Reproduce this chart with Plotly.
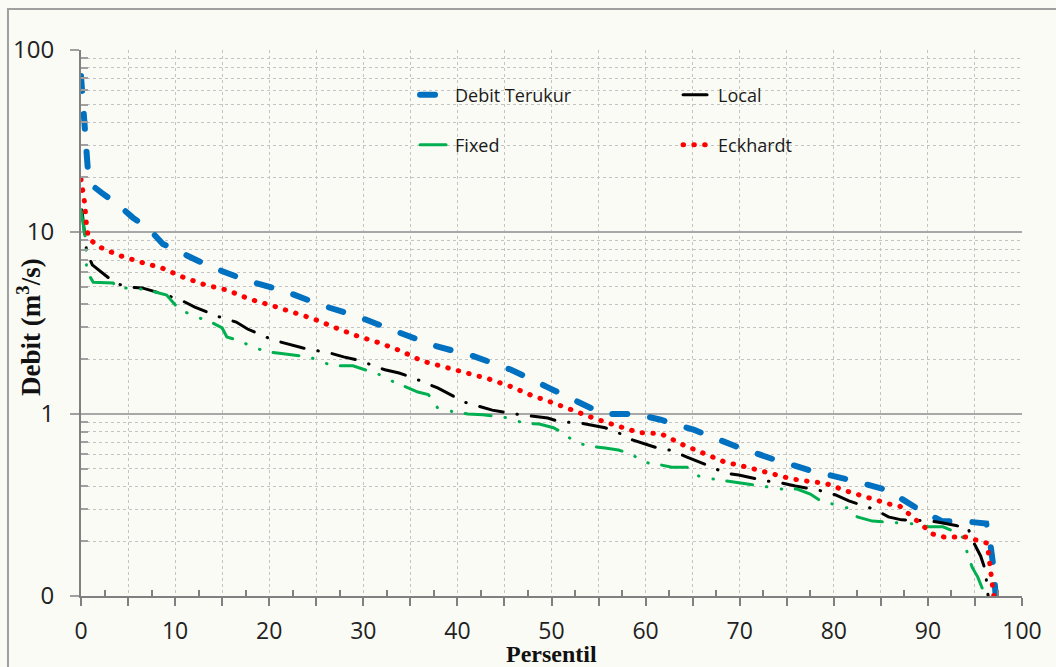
import plotly.graph_objects as go

# ---------------- data ----------------
terukur_x = [0, 0.15, 0.3, 0.5, 0.7, 0.9, 1.5, 2.2, 3.9, 5.5, 7.3, 8.7, 10.7, 13.6, 17.5, 21.6, 25.5,
             29.5, 33.6, 37.6, 41.7, 45.7, 49.5, 53.3, 55.5, 59, 61.6, 65.1, 69.5, 73.5, 77.7,
             81.7, 85.7, 89.3, 91.5, 94, 96.2, 96.6, 97, 97.2]
terukur_y = [72, 55, 40, 30, 23, 20, 17.5, 16.4, 14.2, 12.0, 10.3, 8.6, 7.7, 6.5, 5.44, 4.74, 3.97,
             3.42, 2.83, 2.37, 2.08, 1.75, 1.41, 1.13, 1.0, 1.0, 0.93, 0.82, 0.667, 0.566, 0.486,
             0.434, 0.382, 0.293, 0.258, 0.257, 0.25, 0.2, 0.14, 0.1]

local_x = [0.1, 0.6, 1.2, 3.6, 4.9, 6.5, 9.1, 10.8, 12.1, 15.0, 16.5, 17.7, 20.4, 22.0, 23.5, 26.5,
           27.9, 29.4, 32.3, 33.8, 35.3, 37.9, 39.4, 40.8, 43.7, 46.7, 49.6, 51.1, 52.7, 55.7,
           57.1, 58.6, 61.3, 62.8, 64.4, 67.1, 68.4, 69.9, 72.9, 74.4, 75.9, 78.7, 80.2, 81.6,
           84.5, 85.8, 87.2, 90.2, 91.6, 93.1, 94.2, 94.9, 95.6, 96.1, 96.4]
local_y = [13.2, 7.8, 6.6, 5.25, 4.99, 4.93, 4.5, 4.18, 3.87, 3.37, 3.2, 2.93, 2.55, 2.43, 2.31, 2.16,
           2.06, 1.98, 1.75, 1.68, 1.58, 1.39, 1.26, 1.16, 1.05, 0.99, 0.95, 0.90, 0.90, 0.84,
           0.79, 0.72, 0.65, 0.63, 0.58, 0.51, 0.474, 0.462, 0.428, 0.418, 0.402, 0.378, 0.359, 0.333,
           0.297, 0.272, 0.262, 0.259, 0.252, 0.243, 0.24, 0.195, 0.166, 0.139, 0.1]

fixed_x = [0, 0.5, 0.6, 1.3, 3.4, 3.9, 5.7, 7.1, 9.1, 10.5, 11.1, 12.3, 13.8, 15.0, 15.5, 16.9, 18.4,
           20.0, 21.5, 24.3, 25.7, 27.3, 28.9, 31.8, 33.0, 34.5, 35.8, 36.9, 37.9, 39.5, 41.1, 42.7,
           45.6, 47.0, 48.7, 50.2, 51.2, 52.5, 54.0, 55.7, 57.1, 58.6, 59.6, 61.2, 62.8, 64.4, 65.8,
           67.1, 68.4, 70.0, 71.6, 74.5, 76.1, 77.5, 78.6, 81.4, 82.5, 84.1, 85.4, 88.4, 90.0, 91.6,
           92.9, 93.7, 94.2, 94.7, 95.3, 96.1]
fixed_y = [13.2, 9.0, 6.1, 5.3, 5.25, 4.92, 4.92, 4.8, 4.5, 3.72, 3.63, 3.41, 3.2, 2.97, 2.65, 2.52, 2.31,
           2.19, 2.14, 2.06, 1.91, 1.84, 1.84, 1.64, 1.52, 1.41, 1.32, 1.28, 1.08, 1.03, 1.0, 0.99,
           0.95, 0.89, 0.88, 0.84, 0.79, 0.70, 0.667, 0.65, 0.634, 0.6, 0.545, 0.53, 0.51, 0.51, 0.45,
           0.44, 0.43, 0.418, 0.41, 0.387, 0.387, 0.363, 0.333, 0.305, 0.272, 0.258, 0.255, 0.249, 0.24, 0.24,
           0.225, 0.21, 0.172, 0.144, 0.127, 0.1]

eckhardt_x = [0, 0.4, 0.6, 0.8, 1.7, 3.9, 6.3, 8.6, 10.8, 13.2, 15.5, 17.9, 20.1, 22.5, 24.8, 27.1,
              29.3, 31.7, 34.0, 36.2, 38.6, 40.9, 43.3, 45.6, 47.8, 50.2, 52.4, 54.7, 57.0, 59.3,
              61.6, 63.9, 66.1, 68.4, 70.8, 73.1, 75.5, 77.8, 79.0, 81.3, 83.6, 85.9, 87.0, 88.7,
              90.5, 91.7, 94.0, 96.3, 96.6, 96.9, 97.0]
eckhardt_y = [19.5, 14.3, 10.6, 9.3, 8.4, 7.48, 6.84, 6.34, 5.66, 5.12, 4.8, 4.28, 3.97, 3.63, 3.32, 2.97,
              2.69, 2.46, 2.22, 1.96, 1.81, 1.68, 1.56, 1.42, 1.27, 1.15, 1.04, 0.94, 0.86, 0.79,
              0.78, 0.68, 0.61, 0.545, 0.51, 0.474, 0.44, 0.423, 0.418, 0.378, 0.345, 0.32, 0.312, 0.262,
              0.219, 0.211, 0.211, 0.195, 0.148, 0.111, 0.1]

x_major = [0, 5, 10, 15, 20, 25, 30, 35, 40, 45, 50, 55, 60, 65, 70, 75, 80, 85, 90, 95, 100]
x_labels = ['0', ' ', '10', ' ', '20', ' ', '30', ' ', '40', ' ', '50', ' ', '60', ' ', '70', ' ',
            '80', ' ', '90', ' ', '100']
x_minor = [2.5, 7.5, 12.5, 17.5, 22.5, 27.5, 32.5, 37.5, 42.5, 47.5, 52.5, 57.5, 62.5, 67.5,
           72.5, 77.5, 82.5, 87.5, 92.5, 97.5]
y_major = [0.1, 1, 10, 100]
y_labels = ['0', '1', '10', '100']
y_minor = [0.2, 0.3, 0.4, 0.5, 0.6, 0.7, 0.8, 0.9, 2, 3, 4, 5, 6, 7, 8, 9,
           20, 30, 40, 50, 60, 70, 80, 90]

BG = '#fbfbf5'
SANS = 'Open Sans, Noto Sans, sans-serif'
SERIF = 'Liberation Serif, Times New Roman, serif'

fig = go.Figure()
fig.add_trace(go.Scatter(x=terukur_x, y=terukur_y, mode='lines', name='Debit Terukur',
                         line=dict(color='#0070c0', width=6, dash='15px,23px'), legend='legend'))
fig.add_trace(go.Scatter(x=local_x, y=local_y, mode='lines', name='Local',
                         line=dict(color='#000000', width=3, dash='24px,14px,0.5px,14px'), legend='legend'))
fig.add_trace(go.Scatter(x=fixed_x, y=fixed_y, mode='lines', name='Fixed',
                         line=dict(color='#00b050', width=3,
                                   dash='26px,14px,0.5px,14.5px,0.5px,13.5px'), legend='legend2'))
fig.add_trace(go.Scatter(x=eckhardt_x, y=eckhardt_y, mode='lines', name='Eckhardt',
                         line=dict(color='#ff0000', width=5, dash='0.5px,10.3px'), legend='legend2'))

legend_common = dict(orientation='h', xanchor='left', yanchor='middle', x=0.355,
                     bgcolor='rgba(0,0,0,0)', borderwidth=0, entrywidth=218,
                     font=dict(family=SANS, size=18, color='#1a1a1a'))

fig.update_layout(
    width=1056, height=667,
    margin=dict(l=81, r=34, t=50, b=71),
    paper_bgcolor=BG, plot_bgcolor=BG,
    showlegend=True,
    legend=dict(y=0.9176, **legend_common),
    legend2=dict(y=0.826, **legend_common),
    xaxis=dict(
        range=[0, 100], tickmode='array', tickvals=x_major, ticktext=x_labels,
        ticks='outside', ticklen=8, tickwidth=1.5, tickcolor='#808080',
        showgrid=True, gridcolor='#c4c4c4', griddash='dot', gridwidth=1,
        showline=True, linecolor='#808080', linewidth=2, zeroline=False,
        tickfont=dict(family=SANS, size=23, color='#222222'), ticklabelstandoff=5,
        minor=dict(tickvals=x_minor, ticks='inside', ticklen=6, tickwidth=1.5,
                   tickcolor='#808080', showgrid=False),
    ),
    yaxis=dict(
        type='log', range=[-1, 2], tickmode='array', tickvals=y_major, ticktext=y_labels,
        ticks='outside', ticklen=9, tickwidth=1.5, tickcolor='#a0a0a0',
        showgrid=True, gridcolor='#a8a8a8', gridwidth=2,
        showline=True, linecolor='#808080', linewidth=2, zeroline=False,
        tickfont=dict(family=SANS, size=24, color='#222222'), ticklabelstandoff=11,
        minor=dict(tickvals=y_minor, ticks='inside', ticklen=7, tickwidth=1.5,
                   tickcolor='#a0a0a0', showgrid=True, gridcolor='#c4c4c4',
                   griddash='dot', gridwidth=1),
    ),
    shapes=[dict(type='rect', xref='paper', yref='paper', x0=-0.0776, x1=1.3, y0=-0.5, y1=1.0751,
                 line=dict(color='#a0a0a0', width=2), layer='below')],
    annotations=[
        dict(text='<b>Debit (m<sup>3</sup>/s)</b>', xref='paper', yref='paper', x=-0.0552, y=0.4927,
             xanchor='center', yanchor='middle', textangle=-90, showarrow=False,
             font=dict(family=SERIF, size=27, color='#111111')),
        dict(text='<b>Persentil</b>', xref='paper', yref='paper', x=0.5, y=-0.107,
             xanchor='center', yanchor='middle', showarrow=False,
             font=dict(family=SERIF, size=24, color='#111111')),
    ],
)

post = """
document.querySelectorAll('.scatterlayer path.js-line, .legendlines path').forEach(function(p){
  p.style.strokeLinecap = 'round';
});
"""
fig.write_html("out.html", post_script=post)
